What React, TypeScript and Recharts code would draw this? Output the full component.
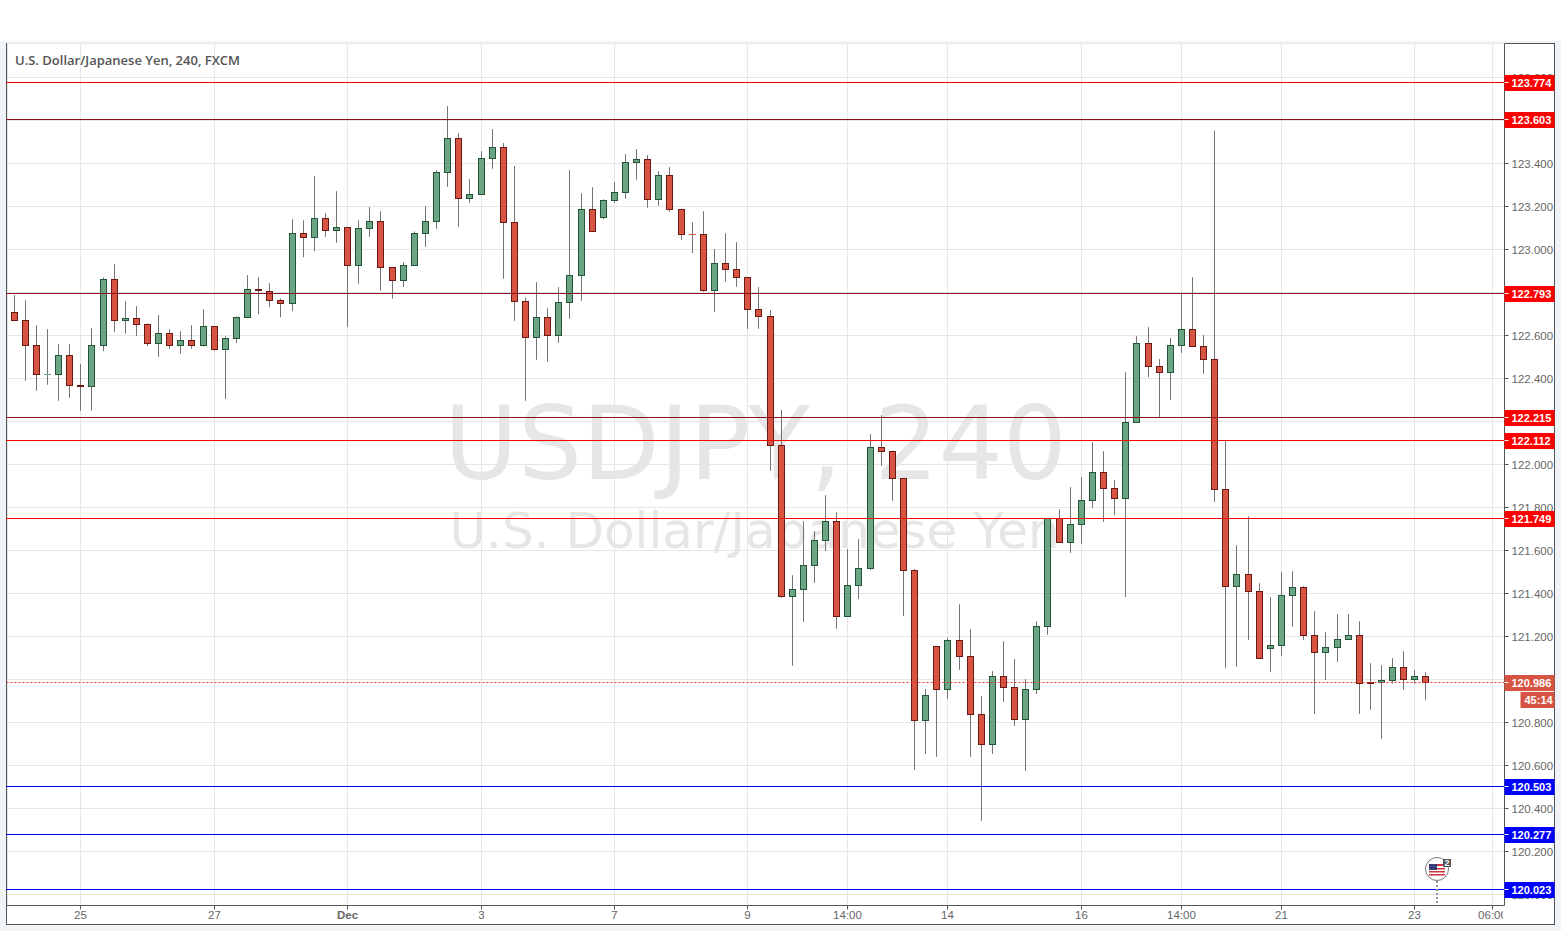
import React from 'react';
import { Bar, CartesianGrid, ComposedChart, ReferenceLine, XAxis, YAxis } from 'recharts';

// 4h USD/JPY candles
const opens = [
  122.707, 122.670, 122.553, 122.418, 122.419, 122.507, 122.367, 122.363, 122.553, 122.860,
  122.670, 122.679, 122.651, 122.563, 122.609, 122.553, 122.577, 122.553, 122.642, 122.535,
  122.586, 122.684, 122.814, 122.805, 122.763, 122.749, 123.074, 123.054, 123.144, 123.088,
  123.102, 122.924, 123.098, 123.130, 122.916, 122.856, 122.926, 123.074, 123.130, 123.358,
  123.516, 123.237, 123.256, 123.423, 123.474, 123.126, 122.758, 122.591, 122.684, 122.600,
  122.753, 122.879, 123.186, 123.149, 123.228, 123.265, 123.405, 123.419, 123.233, 123.344,
  123.186, 123.070, 123.070, 122.809, 122.935, 122.907, 122.870, 122.721, 122.688, 122.088,
  121.386, 121.419, 121.530, 121.647, 121.735, 121.293, 121.437, 121.515, 122.079, 122.060,
  121.935, 121.507, 120.809, 121.153, 120.953, 121.181, 121.107, 120.837, 120.698, 121.014,
  120.963, 120.814, 120.953, 121.247, 121.749, 121.637, 121.721, 121.833, 121.963, 121.888,
  121.840, 122.195, 122.563, 122.456, 122.428, 122.553, 122.628, 122.549, 122.488, 121.882,
  121.433, 121.488, 121.409, 121.143, 121.158, 121.391, 121.428, 121.205, 121.126, 121.149,
  121.186, 121.205, 120.985, 120.986, 120.995, 121.056, 121.000, 121.014,
];
const highs = [
  122.788, 122.764, 122.648, 122.629, 122.560, 122.560, 122.467, 122.634, 122.870, 122.932,
  122.760, 122.736, 122.656, 122.695, 122.629, 122.620, 122.648, 122.722, 122.642, 122.597,
  122.688, 122.881, 122.871, 122.843, 122.772, 123.141, 123.136, 123.341, 123.169, 123.271,
  123.102, 123.136, 123.197, 123.178, 122.916, 122.940, 123.084, 123.202, 123.369, 123.667,
  123.541, 123.327, 123.457, 123.560, 123.495, 123.388, 122.777, 122.848, 122.727, 122.825,
  123.369, 123.262, 123.290, 123.233, 123.313, 123.443, 123.467, 123.439, 123.364, 123.383,
  123.186, 123.127, 123.178, 123.002, 123.076, 123.034, 122.870, 122.825, 122.718, 122.253,
  121.485, 121.736, 121.690, 121.857, 121.778, 121.606, 121.653, 122.141, 122.229, 122.065,
  121.935, 121.513, 120.955, 121.153, 121.195, 121.350, 121.234, 120.922, 121.039, 121.178,
  121.095, 121.002, 121.271, 121.749, 121.792, 121.895, 121.941, 122.104, 122.062, 121.927,
  122.429, 122.597, 122.639, 122.490, 122.588, 122.800, 122.871, 122.602, 123.553, 122.109,
  121.625, 121.758, 121.448, 121.383, 121.499, 121.504, 121.434, 121.318, 121.220, 121.304,
  121.304, 121.271, 121.076, 121.067, 121.099, 121.132, 121.043, 121.034,
];
const lows = [
  122.670, 122.389, 122.343, 122.371, 122.296, 122.310, 122.250, 122.250, 122.527, 122.616,
  122.608, 122.598, 122.550, 122.501, 122.538, 122.515, 122.538, 122.549, 122.529, 122.305,
  122.566, 122.684, 122.699, 122.732, 122.685, 122.713, 122.964, 122.992, 123.059, 123.031,
  122.640, 122.840, 123.059, 122.808, 122.771, 122.826, 122.926, 123.012, 123.096, 123.291,
  123.105, 123.217, 123.256, 123.375, 122.864, 122.668, 122.296, 122.487, 122.478, 122.566,
  122.678, 122.761, 123.084, 123.141, 123.217, 123.236, 123.324, 123.194, 123.203, 123.175,
  123.045, 122.984, 122.803, 122.710, 122.850, 122.826, 122.631, 122.631, 121.971, 121.380,
  121.064, 121.268, 121.450, 121.598, 121.236, 121.293, 121.375, 121.510, 121.994, 121.831,
  121.296, 120.580, 120.654, 120.640, 120.910, 121.045, 120.640, 120.343, 120.654, 120.896,
  120.784, 120.575, 120.933, 121.208, 121.637, 121.589, 121.631, 121.798, 121.733, 121.764,
  121.384, 122.195, 122.406, 122.220, 122.301, 122.519, 122.549, 122.422, 121.826, 121.054,
  121.059, 121.184, 121.098, 121.036, 121.110, 121.245, 121.184, 120.840, 120.998, 121.082,
  121.186, 120.840, 120.859, 120.724, 120.981, 120.952, 120.981, 120.905,
];
const closes = [
  122.670, 122.553, 122.419, 122.420, 122.507, 122.367, 122.361, 122.553, 122.860, 122.670,
  122.679, 122.651, 122.563, 122.609, 122.553, 122.577, 122.553, 122.642, 122.535, 122.586,
  122.684, 122.814, 122.809, 122.763, 122.747, 123.074, 123.054, 123.144, 123.088, 123.102,
  122.924, 123.098, 123.130, 122.915, 122.856, 122.926, 123.074, 123.130, 123.358, 123.516,
  123.237, 123.256, 123.423, 123.474, 123.126, 122.758, 122.591, 122.684, 122.600, 122.753,
  122.879, 123.186, 123.084, 123.228, 123.265, 123.405, 123.419, 123.233, 123.344, 123.186,
  123.070, 123.070, 122.809, 122.935, 122.907, 122.870, 122.721, 122.687, 122.088, 121.386,
  121.419, 121.530, 121.647, 121.735, 121.293, 121.437, 121.516, 122.079, 122.060, 121.935,
  121.507, 120.809, 120.926, 120.953, 121.181, 121.107, 120.837, 120.698, 121.014, 120.963,
  120.814, 120.953, 121.247, 121.749, 121.637, 121.721, 121.833, 121.963, 121.887, 121.840,
  122.195, 122.563, 122.456, 122.428, 122.553, 122.628, 122.549, 122.488, 121.882, 121.433,
  121.488, 121.409, 121.098, 121.158, 121.391, 121.428, 121.203, 121.126, 121.149, 121.186,
  121.205, 120.981, 120.981, 120.995, 121.056, 121.000, 121.014, 120.986,
];

const priceTicks = [
  120.0, 120.2, 120.4, 120.6, 120.8, 121.0, 121.2, 121.4, 121.6, 121.8,
  122.0, 122.2, 122.4, 122.6, 122.8, 123.0, 123.2, 123.4, 123.6, 123.8,
];
const timeTicks = [6, 18, 30, 42, 54, 66, 75, 84, 96, 105, 114, 126, 133];
const timeLabels = ['25', '27', 'Dec', '3', '7', '9', '14:00', '14', '16', '14:00', '21', '23', '06:00'];

const brightRedLevels = [123.774, 122.112, 121.749];
const darkRedLevels = [123.603, 122.793, 122.215];
const blueLevels = [120.503, 120.277, 120.023];
const lastPrice = 120.986;
const countdown = '45:14';

const rows = opens.map((open, i) => ({ idx: i, open, high: highs[i], low: lows[i], close: closes[i] }));

const AXIS_FONT = '"Liberation Sans", Arial, sans-serif';
const X_DOMAIN: [number, number] = [-0.643, 134.06];
const Y_DOMAIN: [number, number] = [119.949, 123.958];

// snap a level to a whole pixel row so the line stays 1px
const snap = (y: number) => Math.floor(y - 0.35) + 0.5;

const Candle = (props: any) => {
  const { x, y, width, height, payload } = props;
  const { open, high, low, close } = payload;
  const left = Math.floor(x + width / 2) + 0.5;
  const top = Math.min(y, y + height);
  const perUnit = Math.abs(height) / (high - low);
  const yOf = (v: number) => top + (high - v) * perUnit;
  const up = close > open;
  const fill = up ? '#6ba583' : '#d75442';
  const edge = up ? '#225437' : '#6b1a13';
  const bodyTop = Math.floor(yOf(Math.max(open, close))) + 0.5;
  const bodyBottom = Math.floor(yOf(Math.min(open, close))) + 0.5;
  return (
    <g>
      <line x1={left} x2={left} y1={top} y2={top + Math.abs(height)} stroke="#737375" strokeWidth={1} />
      {bodyTop === bodyBottom ? (
        <line x1={left - 3.5} x2={left + 3.5} y1={bodyTop} y2={bodyTop} stroke={fill} strokeWidth={1} />
      ) : (
        <rect x={left - 3} y={bodyTop} width={6} height={bodyBottom - bodyTop} fill={fill} stroke={edge} strokeWidth={1} />
      )}
    </g>
  );
};

const levelLine = (color: string, dash?: string) => (props: any) => {
  const y = snap(props.y1);
  return <line x1={props.x1} x2={props.x2 - 1} y1={y} y2={y} stroke={color} strokeDasharray={dash} />;
};

// badge on the price scale for a horizontal level
const levelBadge = (value: number, color: string, extra?: string) => (props: any) => {
  const { viewBox } = props;
  const right = viewBox.x + viewBox.width;
  const y = snap(viewBox.y);
  return (
    <g>
      <rect x={right} y={y - 7.5} width={50} height={16} fill={color} />
      <line x1={right} x2={right + 4} y1={y} y2={y} stroke="#ffffff" />
      <text x={right + 7} y={y + 4.5} fontSize={11} fontFamily={AXIS_FONT} fontWeight={700} fill="#ffffff">
        {value.toFixed(3)}
      </text>
      {extra && (
        <g>
          <rect x={right + 16} y={y + 9.5} width={34} height={16} fill={color} />
          <text x={right + 20} y={y + 21.5} fontSize={11} fontFamily={AXIS_FONT} fontWeight={700} fill="#ffffff">
            {extra}
          </text>
        </g>
      )}
    </g>
  );
};

const TimeTick = (props: any) => {
  const { x, y, payload } = props;
  const label = timeLabels[timeTicks.indexOf(payload.value)];
  const px = Math.floor(x) + 0.5;
  return (
    <g>
      <clipPath id={`clip-${payload.value}`}>
        <rect x={0} y={y - 5} width={1503} height={30} />
      </clipPath>
      <line x1={px} x2={px} y1={905.5} y2={909.5} stroke="#555555" />
      <text
        x={px}
        y={919}
        textAnchor="middle"
        fontSize={11.5}
        fontFamily={AXIS_FONT}
        fontWeight={label === 'Dec' ? 700 : 400}
        fill="#666666"
        clipPath={`url(#clip-${payload.value})`}
      >
        {label}
      </text>
    </g>
  );
};

const GridColumn = (props: any) => {
  const px = Math.floor(props.x1) + 0.5;
  return <line x1={px} x2={px} y1={props.y1} y2={props.y2} stroke="#e6e6e6" />;
};

const FlagMarker = () => (
  <svg width={1561} height={931} style={{ position: 'absolute', left: 0, top: 0, pointerEvents: 'none' }}>
    <line x1={1437} x2={1437} y1={881} y2={905} stroke="#999999" strokeWidth={2} strokeDasharray="2 2" />
    <circle cx={1437} cy={869} r={11.5} fill="#ffffff" stroke="#777777" strokeWidth={1} />
    <rect x={1429} y={864} width={16} height={11} fill="#ffffff" />
    <rect x={1429} y={864} width={16} height={2} fill="#c8313e" />
    <rect x={1429} y={868} width={16} height={1.5} fill="#c8313e" />
    <rect x={1429} y={871} width={16} height={1.5} fill="#c8313e" />
    <rect x={1429} y={874} width={16} height={1.5} fill="#c8313e" />
    <rect x={1429} y={864} width={8} height={6} fill="#3b3f73" />
    <rect x={1443} y={859} width={8} height={8} fill="#555555" />
    <text x={1447} y={866} textAnchor="middle" fontSize={9} fontWeight={700} fontFamily={AXIS_FONT} fill="#ffffff">
      2
    </text>
  </svg>
);

export default function App() {
  return (
    <div style={{ position: 'absolute', left: 0, top: 0, width: 1561, height: 931, background: '#ffffff', overflow: 'hidden' }}>
      <div style={{ position: 'absolute', left: 0, top: 41, width: 1561, height: 890, background: '#f0f3f7' }} />
      <div style={{ position: 'absolute', left: 6, top: 43, width: 1547, height: 880, background: '#ffffff', border: '1px solid #555555' }} />
      <div style={{ position: 'absolute', left: 7, top: 394, width: 1497, textAlign: 'center', fontFamily: '"DejaVu Sans"', fontSize: 101, lineHeight: '100px', color: '#e6e6e6' }}>
        USDJPY, 240
      </div>
      <div style={{ position: 'absolute', left: 6, top: 501, width: 1497, textAlign: 'center', fontFamily: '"DejaVu Sans"', fontSize: 50, lineHeight: '60px', color: '#e6e6e6' }}>
        U.S. Dollar/Japanese Yen
      </div>
      <div style={{ position: 'absolute', left: 0, top: 0 }}>
        <ComposedChart
          width={1561}
          height={931}
          data={rows}
          margin={{ top: 43.5, right: 6.5, bottom: 6.5, left: 7 }}
        >
          <CartesianGrid stroke="#e6e6e6" vertical={GridColumn} />
          <XAxis
            dataKey="idx"
            type="number"
            domain={X_DOMAIN}
            allowDataOverflow
            ticks={timeTicks}
            interval={0}
            height={19}
            tick={TimeTick}
            tickLine={false}
            axisLine={{ stroke: '#555555' }}
          />
          <YAxis
            orientation="right"
            type="number"
            domain={Y_DOMAIN}
            allowDataOverflow
            ticks={priceTicks}
            interval={0}
            width={50}
            tickFormatter={(v: number) => v.toFixed(3)}
            tick={{ fill: '#666666', fontSize: 11.5, fontFamily: AXIS_FONT }}
            tickSize={4}
            tickMargin={3}
            tickLine={{ stroke: '#555555' }}
            axisLine={{ stroke: '#555555' }}
          />
          {brightRedLevels.map((v) => (
            <ReferenceLine key={v} y={v} shape={levelLine('#ff0000')} />
          ))}
          {darkRedLevels.map((v) => (
            <ReferenceLine key={v} y={v} shape={levelLine('#8c0f1f')} />
          ))}
          {blueLevels.map((v) => (
            <ReferenceLine key={v} y={v} shape={levelLine('#0000ff')} />
          ))}
          <Bar dataKey={(d: any) => [d.low, d.high]} barSize={7} shape={Candle} isAnimationActive={false} />
          <ReferenceLine y={lastPrice} shape={levelLine('#f0332a', '2 2')} />
        </ComposedChart>
      </div>
      {/* second layer: the scale badges have to sit on top of the axis labels */}
      <div style={{ position: 'absolute', left: 0, top: 0 }}>
        <ComposedChart
          width={1561}
          height={931}
          data={rows}
          margin={{ top: 43.5, right: 56.5, bottom: 25.5, left: 7 }}
        >
          <XAxis dataKey="idx" type="number" domain={X_DOMAIN} allowDataOverflow hide />
          <YAxis type="number" domain={Y_DOMAIN} allowDataOverflow hide />
          {[...brightRedLevels, ...darkRedLevels].map((v) => (
            <ReferenceLine key={v} y={v} stroke="none" label={levelBadge(v, '#ff0000')} />
          ))}
          {blueLevels.map((v) => (
            <ReferenceLine key={v} y={v} stroke="none" label={levelBadge(v, '#0000ff')} />
          ))}
          <ReferenceLine y={lastPrice} stroke="none" label={levelBadge(lastPrice, '#d75442', countdown)} />
        </ComposedChart>
      </div>
      <FlagMarker />
      <div style={{ position: 'absolute', left: 15, top: 51, fontFamily: '"Open Sans"', fontWeight: 600, fontSize: 13, lineHeight: '18px', color: '#555555', whiteSpace: 'nowrap' }}>
        U.S. Dollar/Japanese Yen, 240, FXCM
      </div>
    </div>
  );
}
